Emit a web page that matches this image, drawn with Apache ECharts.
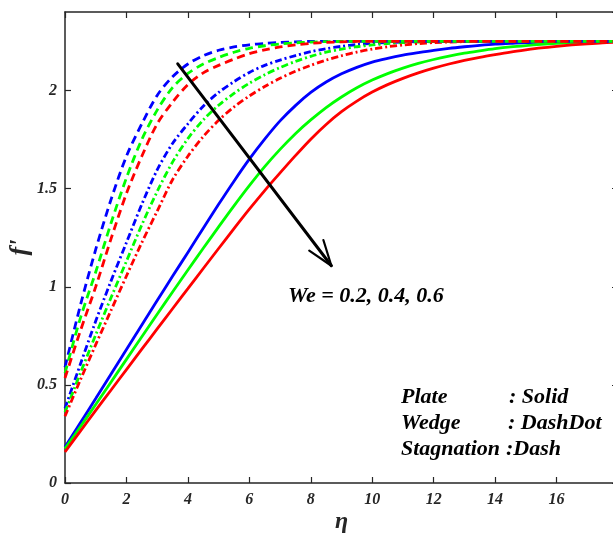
<!DOCTYPE html>
<html>
<head>
<meta charset="utf-8">
<script src="https://cdn.jsdelivr.net/npm/echarts@6/dist/echarts.min.js"></script>
<style>html,body{margin:0;padding:0;background:#fff;}#c{width:613px;height:541px;}</style>
</head>
<body>
<div id="c"></div>
<script>
// eta values at which curves were read
const eta = [0,0.5,1,1.5,2,2.5,3,3.5,4,4.5,5,5.5,6,6.5,7,7.5,8,8.5,9,9.5,10,10.5,11,11.5,12,12.5,13,13.5,14,14.5,15,15.5,16,16.5,17,17.5,18];
// Plate (solid)
const plateWe02 = [0.184,0.307,0.43,0.555,0.68,0.805,0.93,1.053,1.175,1.298,1.42,1.538,1.65,1.752,1.845,1.923,1.99,2.043,2.085,2.118,2.145,2.164,2.18,2.193,2.205,2.215,2.223,2.23,2.236,2.24,2.244,2.246,2.248,2.249,2.25,2.25,2.25];
const plateWe04 = [0.175,0.287,0.40,0.515,0.63,0.745,0.86,0.973,1.085,1.196,1.305,1.412,1.515,1.612,1.70,1.78,1.85,1.913,1.967,2.014,2.053,2.086,2.114,2.138,2.158,2.175,2.19,2.202,2.213,2.222,2.229,2.235,2.24,2.244,2.247,2.249,2.25];
const plateWe06 = [0.158,0.264,0.37,0.474,0.578,0.682,0.785,0.888,0.99,1.093,1.195,1.296,1.395,1.49,1.58,1.668,1.752,1.827,1.892,1.946,1.992,2.03,2.062,2.09,2.114,2.135,2.153,2.169,2.183,2.196,2.207,2.217,2.225,2.232,2.238,2.243,2.246];
// Wedge (dash-dot)
const wedgeWe02 = [0.38,0.605,0.825,1.03,1.225,1.42,1.595,1.73,1.83,1.92,1.99,2.045,2.092,2.128,2.155,2.178,2.198,2.213,2.225,2.234,2.24,2.244,2.247,2.249,2.25,2.25,2.25,2.25,2.25,2.25,2.25,2.25,2.25,2.25,2.25,2.25,2.25];
const wedgeWe04 = [0.36,0.56,0.755,0.945,1.13,1.315,1.485,1.635,1.755,1.85,1.925,1.985,2.037,2.08,2.117,2.148,2.174,2.195,2.211,2.223,2.232,2.239,2.244,2.247,2.249,2.25,2.25,2.25,2.25,2.25,2.25,2.25,2.25,2.25,2.25,2.25,2.25];
const wedgeWe06 = [0.34,0.525,0.705,0.88,1.055,1.225,1.385,1.545,1.665,1.765,1.848,1.916,1.972,2.02,2.062,2.098,2.128,2.155,2.177,2.196,2.211,2.223,2.232,2.239,2.244,2.247,2.249,2.25,2.25,2.25,2.25,2.25,2.25,2.25,2.25,2.25,2.25];
// Stagnation (dash)
const stagWe02 = [0.59,0.905,1.19,1.445,1.665,1.83,1.975,2.07,2.135,2.177,2.205,2.222,2.233,2.24,2.245,2.248,2.25,2.25,2.25,2.25,2.25,2.25,2.25,2.25,2.25,2.25,2.25,2.25,2.25,2.25,2.25,2.25,2.25,2.25,2.25,2.25,2.25];
const stagWe04 = [0.56,0.84,1.075,1.325,1.555,1.75,1.9,2.015,2.087,2.135,2.168,2.195,2.215,2.228,2.237,2.243,2.247,2.249,2.25,2.25,2.25,2.25,2.25,2.25,2.25,2.25,2.25,2.25,2.25,2.25,2.25,2.25,2.25,2.25,2.25,2.25,2.25];
const stagWe06 = [0.535,0.775,1.0,1.245,1.475,1.665,1.83,1.94,2.03,2.09,2.128,2.16,2.188,2.207,2.222,2.232,2.24,2.245,2.248,2.25,2.25,2.25,2.25,2.25,2.25,2.25,2.25,2.25,2.25,2.25,2.25,2.25,2.25,2.25,2.25,2.25,2.25];
// arrow annotation (data coords)
const arrowShaft = [[3.67,2.136],[8.67,1.107]];
const arrowWingA = [[7.95,1.184],[8.67,1.107]];
const arrowWingB = [[8.41,1.238],[8.67,1.107]];
const xTicks = [0,2,4,6,8,10,12,14,16];
const yTicks = [0,0.5,1,1.5,2];

const colors = {b:'#0000ff', g:'#00ff00', r:'#ff0000'};
const FONT = '"Liberation Serif","Times New Roman",serif';
const DASH = [8,5];
const DASHDOT = [7,3,2,3];

function pairs(ys){ return eta.map((x,i)=>[x, ys[i]]); }
function curve(name, ys, color, type){
  return {name, type:'line', data:pairs(ys), showSymbol:false, symbol:'none',
    smooth:0.3, clip:true,
    lineStyle:{color, width:2.8, type, cap:'butt'}, z:3};
}
function seg(d, w){
  return {type:'line', data:d, showSymbol:false, symbol:'none', lineStyle:{color:'#000', width:w, cap:'round'}, z:5};
}

const axisLabelStyle = {fontFamily:FONT, fontStyle:'italic', fontWeight:'bold', fontSize:16, color:'#262626'};
const lineCol = '#262626';

const option = {
  animation:false,
  backgroundColor:'#fff',
  grid:{left:65, right:-5, top:12, bottom:58, containLabel:false, outerBoundsMode:'none'},
  xAxis:[{
    type:'value', min:0, max:18, interval:2, position:'bottom',
    name:'η', nameLocation:'middle', nameGap:27, nameMoveOverlap:false,
    nameTextStyle:{fontFamily:FONT, fontStyle:'italic', fontWeight:'bold', fontSize:24, color:'#262626'},
    axisLine:{show:true, lineStyle:{color:lineCol, width:1.5}},
    axisTick:{show:true, inside:true, length:6, lineStyle:{color:lineCol, width:1.2}},
    axisLabel:{...axisLabelStyle, margin:9, showMaxLabel:false, formatter:v=>xTicks.includes(v)?String(v):''},
    splitLine:{show:false}
  },{
    type:'value', min:0, max:18, interval:2, position:'top',
    axisLine:{show:true, onZero:false, lineStyle:{color:lineCol, width:1.5}},
    axisTick:{show:true, inside:true, length:6, lineStyle:{color:lineCol, width:1.2}},
    axisLabel:{show:false}, splitLine:{show:false}
  }],
  yAxis:[{
    type:'value', min:0, max:2.4, interval:0.5, position:'left',
    name:"f'", nameLocation:'middle', nameGap:32, nameRotate:90, nameMoveOverlap:false,
    nameTextStyle:{fontFamily:FONT, fontStyle:'italic', fontWeight:'bold', fontSize:26, color:'#262626'},
    axisLine:{show:true, lineStyle:{color:lineCol, width:1.5}},
    axisTick:{show:true, inside:true, length:6, lineStyle:{color:lineCol, width:1.2}},
    axisLabel:{...axisLabelStyle, margin:8, showMaxLabel:false, formatter:v=>yTicks.includes(v)?String(v):''},
    splitLine:{show:false}
  },{
    type:'value', min:0, max:2.4, interval:0.5, position:'right',
    axisLine:{show:true, onZero:false, lineStyle:{color:lineCol, width:1.5}},
    axisTick:{show:true, inside:true, length:6, lineStyle:{color:lineCol, width:1.2}},
    axisLabel:{show:false}, splitLine:{show:false}
  }],
  series:[
    curve('Plate We=0.2', plateWe02, colors.b, 'solid'),
    curve('Plate We=0.4', plateWe04, colors.g, 'solid'),
    curve('Plate We=0.6', plateWe06, colors.r, 'solid'),
    curve('Wedge We=0.2', wedgeWe02, colors.b, DASHDOT),
    curve('Wedge We=0.4', wedgeWe04, colors.g, DASHDOT),
    curve('Wedge We=0.6', wedgeWe06, colors.r, DASHDOT),
    curve('Stagnation We=0.2', stagWe02, colors.b, DASH),
    curve('Stagnation We=0.4', stagWe04, colors.g, DASH),
    curve('Stagnation We=0.6', stagWe06, colors.r, DASH),
    seg(arrowShaft, 3),
    seg(arrowWingA, 2.2),
    seg(arrowWingB, 2.2)
  ],
  graphic:[
    {type:'text', x:288, y:296, style:{text:'We = 0.2, 0.4, 0.6', font:'italic bold 22px '+FONT, fill:'#000', verticalAlign:'middle'}},
    {type:'text', x:401, y:397, style:{text:'Plate', font:'italic bold 22px '+FONT, fill:'#000', verticalAlign:'middle'}},
    {type:'text', x:509, y:397, style:{text:': Solid', font:'italic bold 22px '+FONT, fill:'#000', verticalAlign:'middle'}},
    {type:'text', x:401, y:423, style:{text:'Wedge', font:'italic bold 22px '+FONT, fill:'#000', verticalAlign:'middle'}},
    {type:'text', x:508, y:423, style:{text:': DashDot', font:'italic bold 22px '+FONT, fill:'#000', verticalAlign:'middle'}},
    {type:'text', x:401, y:449, style:{text:'Stagnation', font:'italic bold 22px '+FONT, fill:'#000', verticalAlign:'middle'}},
    {type:'text', x:506, y:449, style:{text:':Dash', font:'italic bold 22px '+FONT, fill:'#000', verticalAlign:'middle'}}
  ]
};
const chart = echarts.init(document.getElementById('c'), null, {renderer:'canvas'});
chart.setOption(option);
</script>
</body>
</html>
